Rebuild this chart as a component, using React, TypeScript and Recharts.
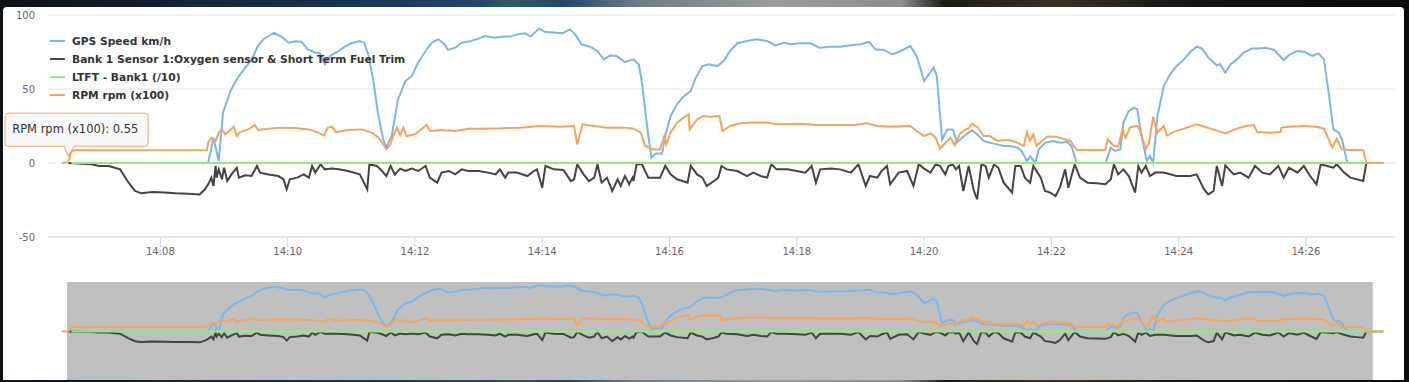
import { LineChart, Line, XAxis, YAxis, CartesianGrid, Legend, ReferenceArea, ReferenceDot } from "recharts";

// [seconds after 14:00, value]
type Pt = [number, number];

const speed: Pt[] = [
  [393, 0], [525, 0], [530, 17], [535, 1.4], [539, 34], [546, 48.6], [553, 57.7], [560, 64.4], [566, 70], [572, 79],
  [577, 83.6], [582, 85.8], [587, 87.9], [594, 85.4], [601, 81.3], [607, 82.2], [613, 82], [619, 76.8], [626, 74.5],
  [630, 74.5], [635, 66.7], [640, 72.3], [648, 75.7], [654, 78.6], [660, 80.9], [668, 82.4], [672, 81.3], [676, 73.4],
  [681, 54.3], [685, 34], [690, 16], [693, 10.4], [698, 18.2], [704, 43], [711, 55.4], [717, 58.8], [723, 67.8],
  [730, 75.7], [736, 81.3], [742, 83.6], [748, 80.2], [751, 76.4], [758, 77.9], [764, 81.3], [773, 82.4], [780, 84],
  [786, 85.8], [795, 84.7], [804, 85.4], [810, 85.4], [816, 86.9], [824, 87.6], [829, 85.4], [837, 90.8], [843, 88.5],
  [851, 88.1], [859, 87.6], [866, 90.3], [871, 86.9], [877, 80.2], [885, 78.6], [892, 75.7], [898, 70], [904, 72.7],
  [910, 72.3], [918, 68.2], [926, 70], [931, 66.7], [934, 54.3], [937, 36.3], [940, 18.2], [943, 3.6], [947, 6.5],
  [953, 6.5], [956, 18.2], [961, 31.8], [967, 39.6], [973, 44.8], [980, 48.6], [984, 56.5], [991, 65.5], [997, 66.7],
  [1005, 65.5], [1011, 68.9], [1017, 75.7], [1024, 80.9], [1033, 82.4], [1042, 83.6], [1052, 82.4], [1060, 79.5],
  [1068, 81.3], [1074, 80.2], [1083, 80.9], [1093, 80.9], [1101, 77.9], [1112, 78.6], [1121, 78.6], [1130, 79.5],
  [1140, 80.2], [1148, 81.8], [1154, 76.8], [1162, 76.4], [1170, 73.4], [1178, 75.7], [1187, 79], [1193, 72.3],
  [1200, 55.4], [1209, 64.4], [1212, 58.8], [1217, 16], [1222, 22.7], [1227, 22.7], [1231, 14], [1236, 17.1],
  [1240, 19.4], [1245, 22.3], [1250, 19.4], [1256, 14.9], [1262, 13.7], [1269, 12.6], [1275, 11.5], [1281, 11.5],
  [1288, 10.4], [1292, 8.1], [1297, 1.4], [1300, 4.7], [1305, 0], [1308, 9.2], [1314, 13.7], [1322, 14.9],
  [1328, 13.7], [1335, 14.2], [1339, 11.5], [1344, 0], [1371, 0], [1376, 10.4], [1380, 8.1], [1385, 9.2],
  [1388, 27.3], [1393, 35.1], [1398, 37.4], [1401, 36.3], [1405, 18.2], [1410, 1.4], [1413, 4.7], [1416, 0],
  [1420, 31.8], [1426, 52], [1432, 59.9], [1438, 65.5], [1445, 70], [1451, 75], [1457, 78.6], [1462, 77.3],
  [1468, 71.2], [1476, 66], [1479, 66.7], [1484, 61], [1489, 66.7], [1495, 70], [1501, 74.5], [1509, 77.3],
  [1515, 77.3], [1522, 77.9], [1530, 76.4], [1539, 69.6], [1545, 73.4], [1552, 75.7], [1559, 75], [1566, 72.3],
  [1572, 74.1], [1577, 70], [1581, 49.8], [1586, 22.7], [1591, 20.5], [1594, 16], [1599, 0], [1633, 0],
];

const o2Stft: Pt[] = [
  [393, 0], [415, -0.9], [422, -2], [431, -2], [437, -3.2], [442, -4.3], [450, -13.3], [456, -18.9], [462, -20.5],
  [472, -19.6], [484, -20], [494, -20.5], [506, -20.7], [517, -21.2], [522, -17.8], [525, -14.4], [528, -9.9],
  [530, -15.5], [532, -2], [533, -9.9], [535, -4.3], [538, -11], [540, -3.2], [543, -12.2], [547, -7.7], [552, -3.2],
  [554, -9.9], [560, -8.3], [566, -8.8], [571, -2], [574, -6.5], [582, -7.7], [591, -8.8], [596, -11], [599, -17.8],
  [602, -11], [609, -9.9], [615, -7.7], [620, -9.9], [623, -2], [626, -6.5], [631, -0.9], [635, -4.3], [642, -3.8],
  [648, -4.3], [657, -5.4], [668, -7.7], [675, -17.8], [677, -0.9], [684, -2], [689, -5.4], [693, -8.8], [697, -2],
  [701, -7.7], [706, -3.8], [711, -5.4], [717, -3.8], [723, -5.4], [730, -2], [734, -9.9], [741, -13.3], [745, -6.5],
  [752, -5.4], [758, -7.7], [764, -4.3], [770, -5.4], [780, -5.4], [789, -6.5], [796, -7.7], [800, -4.3], [805, -9.9],
  [808, -6.5], [816, -6.5], [826, -8.8], [832, -5.4], [835, -4.3], [840, -16.7], [843, -2], [851, -4.3], [860, -4.7],
  [867, -12.2], [870, -11], [873, -0.9], [879, -7.7], [884, -12.2], [889, -9.9], [892, -0.9], [896, -13.3],
  [901, -9.9], [906, -18.9], [911, -11], [914, -15.5], [918, -8.8], [922, -14.4], [925, -9.9], [926, -12.2],
  [929, -0.9], [934, -0.9], [940, -9.9], [951, -9.9], [956, -2], [961, -7.7], [967, -11], [977, -13.3], [980, -2],
  [986, -7.7], [991, -9.9], [995, -15.5], [1002, -12.2], [1006, -9.9], [1009, -2], [1014, -4.3], [1024, -5.4],
  [1033, -8.8], [1039, -6.5], [1046, -8.8], [1052, -9.9], [1056, -0.9], [1061, -4.3], [1071, -4.3], [1080, -5.4],
  [1088, -6.5], [1094, -2], [1098, -13.3], [1102, -4.3], [1112, -3.8], [1121, -4.3], [1131, -6.5], [1138, -0.9],
  [1145, -15.5], [1149, -8.8], [1156, -9.9], [1160, -5.4], [1165, -2], [1168, -14.4], [1176, -6.5], [1184, -5.4],
  [1190, -15.5], [1195, -0.9], [1200, -3.8], [1206, -6.5], [1211, -0.9], [1215, -2], [1220, -7.7], [1223, -2],
  [1227, -0.9], [1230, -4.3], [1233, -2], [1237, -18.9], [1242, -2], [1247, -18.9], [1250, -24.5], [1254, -0.9],
  [1258, -2], [1261, -9.9], [1266, -0.9], [1270, -3.2], [1275, -13.3], [1283, -20], [1286, -2], [1291, -2],
  [1295, -9.9], [1300, -13.3], [1303, -2], [1310, -9.9], [1314, -18.9], [1319, -20], [1324, -22.3], [1328, -16.7],
  [1333, -4.3], [1336, -16.7], [1342, -0.9], [1347, -9.9], [1354, -13.3], [1363, -13.7], [1371, -14.4], [1376, -11],
  [1379, -0.9], [1383, -7.7], [1388, -4.3], [1393, -8.8], [1396, -14.4], [1399, -20], [1402, -2], [1405, -6.5],
  [1409, -2], [1413, -8.8], [1418, -6.5], [1426, -6.5], [1438, -8.8], [1451, -8.8], [1457, -7.7], [1464, -17.8],
  [1468, -21.2], [1473, -18.9], [1476, -2], [1481, -15.5], [1484, -1.6], [1492, -7.7], [1498, -6.5], [1506, -9.9],
  [1512, -2], [1519, -6.5], [1526, -7.7], [1534, -2], [1539, -9.9], [1544, -3.2], [1552, -6.5], [1558, -2],
  [1564, -8.8], [1570, -14.4], [1574, -0.9], [1580, -2], [1586, -3.2], [1589, -0.9], [1596, -6.5], [1602, -9.9],
  [1608, -11], [1614, -12.2], [1617, 0],
];

const ltft: Pt[] = [[396, 0], [1633, 0]];

const rpm: Pt[] = [
  [387, 0], [393, 0.55], [396, 8.1], [400, 8.6], [524, 8.8], [525, 13.7], [528, 17.1], [532, 14.9], [535, 20.5],
  [538, 22.7], [541, 19.4], [546, 22.3], [549, 24.5], [552, 18.2], [555, 20.9], [563, 22.7], [569, 25.7], [572, 22.3],
  [582, 23.2], [594, 23.9], [607, 23.6], [620, 22.7], [629, 20.5], [634, 18.7], [638, 23.9], [642, 24.5], [645, 20.9],
  [657, 22.3], [670, 22.7], [679, 20.5], [686, 17.1], [690, 12.6], [693, 9.2], [697, 12.6], [700, 19.4], [703, 23.9],
  [706, 18.7], [709, 23.9], [712, 18.2], [720, 19.4], [731, 25.7], [734, 21.6], [745, 22.3], [758, 21.6], [770, 23.2],
  [783, 23.2], [801, 23.4], [819, 23.9], [838, 25], [857, 24.5], [870, 25], [873, 12.6], [878, 26.1], [889, 25],
  [901, 23.9], [917, 23.9], [926, 23.2], [933, 20.5], [937, 11.5], [944, 9.2], [951, 9.2], [955, 18.2], [957, 12.6],
  [961, 20.5], [967, 27.3], [973, 30.6], [978, 32.9], [979, 22.7], [986, 29.5], [992, 31.8], [999, 31.3], [1007, 31.8],
  [1010, 21.6], [1017, 25], [1027, 26.8], [1039, 27.3], [1052, 27.3], [1061, 26.1], [1083, 26.6], [1099, 25.7],
  [1115, 25.7], [1134, 25.7], [1146, 26.8], [1156, 25], [1168, 24.5], [1187, 25], [1193, 21.6], [1200, 18.2],
  [1206, 20], [1211, 17.1], [1215, 9.7], [1222, 14.9], [1225, 17.1], [1229, 11.9], [1234, 20], [1239, 22.7],
  [1242, 23.2], [1245, 26.6], [1251, 23.9], [1256, 18.2], [1262, 18.2], [1269, 14.9], [1275, 15.3], [1281, 15.3],
  [1288, 13.7], [1294, 11.5], [1297, 20.9], [1300, 14.9], [1303, 19.4], [1306, 11.5], [1311, 14.9], [1316, 17.8],
  [1325, 17.8], [1332, 16], [1338, 14.9], [1344, 8.8], [1371, 8.8], [1373, 16], [1379, 11.5], [1383, 11],
  [1387, 22.3], [1390, 17.1], [1394, 23.9], [1401, 25], [1404, 21.6], [1409, 9.2], [1412, 13.7], [1416, 31.3],
  [1420, 20.5], [1426, 25], [1429, 18.7], [1435, 20.9], [1445, 23.2], [1457, 26.1], [1470, 23.2], [1484, 20],
  [1495, 23.2], [1503, 25], [1511, 25.7], [1514, 20.9], [1526, 20.5], [1536, 20.9], [1537, 23.9], [1545, 24.5],
  [1558, 25], [1570, 24.5], [1577, 23.2], [1585, 10.4], [1589, 16.4], [1594, 9.2], [1599, 8.8], [1614, 8.8],
  [1617, 0], [1633, 0],
];

const timeTicks = [480, 600, 720, 840, 960, 1080, 1200, 1320, 1440, 1560];
const valueTicks = [-50, 0, 50, 100];
const hoverPoint: Pt = [393, 0.55];
const navigatorRange: Pt = [392, 1623];

const series = [
  { name: "GPS Speed km/h", color: "#7cb5ec", data: speed },
  { name: "Bank 1 Sensor 1:Oxygen sensor & Short Term Fuel Trim", color: "#434348", data: o2Stft },
  { name: "LTFT - Bank1 (/10)", color: "#90ed7d", data: ltft },
  { name: "RPM rpm (x100)", color: "#f7a35c", data: rpm },
];

const toRows = (pts: Pt[]) => pts.map(([t, v]) => ({ t, v }));
const fmtTime = (s: number) => `14:${String(Math.floor(s / 60)).padStart(2, "0")}`;

const FONT = '"DejaVu Sans", "Lucida Grande", Arial, sans-serif';

function LegendBox() {
  return (
    <div style={{ fontFamily: FONT, fontSize: 10.7, fontWeight: "bold", color: "#333" }}>
      {series.map((s) => (
        <div key={s.name} style={{ display: "flex", alignItems: "center", height: 18 }}>
          <svg width={22} height={4} style={{ flex: "none" }}>
            <line x1={0} y1={2} x2={15} y2={2} stroke={s.color} strokeWidth={2} />
          </svg>
          <span style={{ whiteSpace: "nowrap" }}>{s.name}</span>
        </div>
      ))}
    </div>
  );
}

function Callout(props: any) {
  const { cx, cy } = props;
  const l = cx - 63, r = cx + 80, t = cy - 49, b = cy - 16;
  const d = `M ${l + 3} ${t} L ${r - 3} ${t} Q ${r} ${t} ${r} ${t + 3} L ${r} ${b - 3} Q ${r} ${b} ${r - 3} ${b}
    L ${cx + 6} ${b} L ${cx} ${cy - 6} L ${cx - 4} ${b} L ${l + 3} ${b} Q ${l} ${b} ${l} ${b - 3}
    L ${l} ${t + 3} Q ${l} ${t} ${l + 3} ${t} Z`;
  return (
    <g>
      <path d={d} fill="rgba(247,247,247,0.9)" stroke="#f7a35c" strokeWidth={1} />
      <text x={l + 7} y={t + 20} fill="#333" fontSize={11.5} fontFamily={FONT}>
        {`${series[3].name}: ${hoverPoint[1]}`}
      </text>
    </g>
  );
}

export default function App() {
  return (
    <div
      style={{
        position: "absolute",
        left: 0,
        top: 0,
        width: 1409,
        height: 382,
        overflow: "hidden",
        fontFamily: FONT,
        background:
          "linear-gradient(90deg, #0e1216 0%, #141f2b 10%, #1b3350 25%, #23466a 34%, #2f5e58 36%, #23466a 40%, #6d7a84 45%, #9b9d9b 55%, #8c8f8a 64%, #1c1a16 67%, #3a3226 75%, #141414 85%, #0b0b0b 100%)",
      }}
    >
      <div
        style={{
          position: "absolute",
          left: 3,
          top: 7,
          width: 1401,
          height: 373,
          background: "#fff",
          borderRadius: "4px 4px 0 0",
        }}
      />
      <div style={{ position: "absolute", left: 0, top: 0 }}>
        <LineChart width={1409} height={270} margin={{ top: 15, right: 14, bottom: 0, left: 0 }}>
          <CartesianGrid vertical={false} stroke="#e6e6e6" />
          <XAxis
            dataKey="t"
            type="number"
            domain={[374, 1644]}
            allowDataOverflow
            ticks={timeTicks}
            tickFormatter={fmtTime}
            height={33}
            tickSize={10}
            tickMargin={1}
            axisLine={{ stroke: "#ccd6eb" }}
            tickLine={{ stroke: "#ccd6eb" }}
            tick={{ fill: "#666", fontSize: 10 }}
          />
          <YAxis
            type="number"
            domain={[-50, 100]}
            ticks={valueTicks}
            width={48}
            axisLine={false}
            tickLine={false}
            tickSize={0}
            tickMargin={13}
            tick={{ fill: "#666", fontSize: 10 }}
          />
          <Legend
            layout="vertical"
            align="center"
            verticalAlign="middle"
            content={() => <LegendBox />}
            wrapperStyle={{ position: "absolute", left: 50, top: 32, width: 420, height: 72 }}
          />
          {series.map((s) => (
            <Line
              key={s.name}
              data={toRows(s.data)}
              dataKey="v"
              name={s.name}
              type="linear"
              stroke={s.color}
              strokeWidth={2}
              dot={false}
              activeDot={false}
              isAnimationActive={false}
            />
          ))}
          <ReferenceDot x={hoverPoint[0]} y={hoverPoint[1]} shape={(p: any) => <Callout {...p} />} />
        </LineChart>
      </div>
      <div style={{ position: "absolute", left: 0, top: 282 }}>
        <LineChart width={1409} height={98} margin={{ top: 0, right: 14, bottom: 0, left: 48 }}>
          <XAxis dataKey="t" type="number" domain={[374, 1644]} allowDataOverflow hide />
          <YAxis type="number" domain={[-95, 97]} allowDataOverflow hide />
          <ReferenceArea x1={navigatorRange[0]} x2={navigatorRange[1]} fill="#bfbfbf" fillOpacity={1} stroke="none" />
          {series.map((s) => (
            <Line
              key={s.name}
              data={toRows(s.data)}
              dataKey="v"
              type="linear"
              stroke={s.color}
              strokeWidth={2}
              dot={false}
              activeDot={false}
              isAnimationActive={false}
            />
          ))}
        </LineChart>
      </div>
    </div>
  );
}
